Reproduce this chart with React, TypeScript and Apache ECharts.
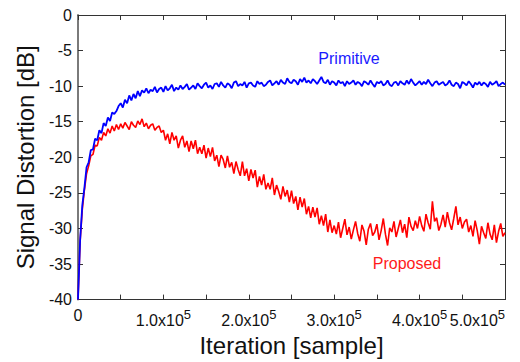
import React, { useEffect, useRef } from "react";
import * as echarts from "echarts";

// x positions: sample index * step (iterations)
const sampleStep = 2500;

// Signal distortion [dB], one value per 2500 iterations, 0 .. 5.0x10^5
const primitive = [
  -40, -31.6, -26.8, -24.3, -21.4, -20.7, -19.0, -18.9, -17.4, -17.6,
  -16.2, -16.6, -15.2, -15.6, -14.4, -14.9, -13.7, -13.9, -13.5, -12.8,
  -12.4, -13.0, -11.9, -12.4, -11.3, -12.0, -11.1, -11.7, -10.7, -11.4,
  -10.6, -10.9, -10.3, -11.0, -10.5, -10.7, -10.1, -10.9, -10.4, -10.2,
  -10.8, -10.0, -10.6, -10.3, -9.8, -10.7, -10.2, -10.5, -9.9, -10.4,
  -10.1, -9.7, -10.5, -10.2, -9.9, -10.4, -9.6, -10.0, -10.3, -9.8,
  -9.5, -10.2, -9.9, -10.4, -9.7, -9.6, -10.1, -9.4, -9.9, -10.2,
  -9.6, -9.8, -10.3, -9.5, -9.3, -10.0, -9.7, -9.9, -9.4, -10.2,
  -9.6, -9.5, -9.9, -10.1, -9.3, -9.7, -9.5, -10.0, -9.8, -9.4,
  -9.2, -9.9, -9.6, -9.3, -9.8, -9.1, -9.5, -9.7, -8.9, -9.4,
  -9.6, -9.1, -9.3, -9.8, -9.0, -9.4, -8.8, -9.5, -9.2, -9.6,
  -9.0, -9.3, -9.7, -9.2, -8.7, -9.4, -9.6, -9.1, -9.8, -9.3,
  -9.5, -9.9, -9.2, -9.6, -9.4, -10.0, -9.3, -9.7, -9.5, -9.2,
  -9.8, -9.4, -9.6, -10.0, -9.3, -9.5, -9.8, -9.2, -9.7, -10.1,
  -9.4, -9.6, -9.3, -9.9, -9.7, -9.2, -9.8, -10.0, -9.5, -9.4,
  -9.9, -9.3, -9.6, -9.8, -9.2, -9.7, -9.0, -9.5, -9.9, -9.6,
  -9.3, -9.8, -9.4, -9.7, -9.1, -9.6, -10.0, -9.5, -9.3, -9.8,
  -9.6, -9.4, -9.9, -9.7, -9.2, -9.8, -10.0, -9.5, -9.7, -10.3,
  -9.4, -9.6, -9.9, -9.3, -9.7, -10.2, -9.5, -9.8, -9.4, -9.9,
  -9.5, -9.7, -10.1, -9.4, -9.8, -9.6, -9.3, -10.0, -9.7, -9.5,
  -9.8,
];

const proposed = [
  -40, -31.8, -27.4, -24.6, -22.3, -21.2, -19.8, -19.6, -18.3, -18.4,
  -17.2, -17.6, -16.5, -17.0, -16.0, -16.6, -15.6, -16.3, -15.4, -16.1,
  -15.3, -15.9, -15.1, -15.6, -16.1, -15.0, -15.5, -15.8, -14.9, -15.4,
  -14.6, -15.7, -15.2, -16.0, -15.5, -15.3, -16.2, -15.8, -15.6, -16.5,
  -16.2, -17.6, -16.7, -18.1, -16.5, -17.6, -17.0, -18.7, -17.6, -17.0,
  -18.6, -17.7, -19.2, -17.7, -18.8, -17.6, -19.5, -18.6, -19.5, -18.3,
  -20.1, -18.7, -19.9, -18.6, -20.5, -19.7, -21.3, -19.7, -20.3, -21.5,
  -19.8, -21.4, -20.7, -22.3, -20.6, -21.7, -22.6, -20.6, -22.6, -21.6,
  -23.3, -21.7, -22.9, -21.8, -24.2, -22.7, -23.9, -22.4, -24.5, -23.6,
  -24.5, -22.9, -25.3, -23.9, -24.8, -25.9, -24.1, -25.5, -24.6, -26.3,
  -24.7, -26.5, -25.5, -27.4, -25.6, -27.0, -25.8, -28.0, -26.9, -28.5,
  -27.0, -28.4, -27.1, -29.4, -28.2, -29.6, -28.0, -30.5, -28.8, -30.6,
  -29.6, -30.8, -29.1, -31.3, -30.0, -28.7, -30.9, -29.8, -31.5, -30.2,
  -29.0, -30.7, -31.8, -29.5, -30.4, -32.3, -30.1, -29.3, -31.0, -30.5,
  -29.4, -31.6, -30.3, -28.6, -30.8, -32.4, -29.9, -30.5, -29.0, -31.2,
  -30.0, -28.8, -30.6, -29.4, -31.3, -28.4, -29.7, -30.3, -28.9, -30.0,
  -28.3, -29.6, -30.4, -28.0, -29.2, -30.1, -26.2, -29.0, -28.5, -30.3,
  -29.4, -28.1, -29.8, -27.7, -29.2, -30.2, -28.6, -26.9, -29.5, -28.4,
  -30.0, -29.1, -28.7, -30.5, -29.6, -31.1, -28.9, -30.3, -32.2, -29.7,
  -30.6, -31.4, -29.2, -30.8, -31.6, -29.5, -32.0, -30.4, -29.3, -31.1,
  -30.6,
];

const xMin = 0;
const xMax = 500000;
const xTickStep = 50000;
const xLabelStep = 100000;
const yMin = -40;
const yMax = 0;
const yTickStep = 5;

const seriesNames = ["Proposed", "Primitive"];

const FONT = "'Liberation Sans', Arial, sans-serif";

export default function App() {
  const ref = useRef<HTMLDivElement>(null);

  useEffect(() => {
    if (!ref.current) return;
    const chart = echarts.init(ref.current, undefined, { renderer: "svg" });

    const xFormatter = (v: number) => {
      if (v === 0) return "0";
      if (v % xLabelStep !== 0) return "";
      return `{b|${(v / 1e5).toFixed(1)}x10}{s|5}`;
    };

    const frame = "#333";
    const tick = { show: true, inside: true, length: 5, lineStyle: { color: frame } };

    chart.setOption({
      animation: false,
      backgroundColor: "#fff",
      textStyle: { fontFamily: FONT },
      grid: { left: 78, right: 15, top: 15, bottom: 61, containLabel: false },
      xAxis: [
        {
          type: "value",
          min: xMin,
          max: xMax,
          interval: xTickStep,
          position: "bottom",
          name: "Iteration [sample]",
          nameLocation: "middle",
          nameGap: 28,
          nameTextStyle: { fontSize: 24, color: "#111", fontFamily: FONT },
          axisLine: { show: true, onZero: false, lineStyle: { color: frame, width: 1 } },
          axisTick: tick,
          splitLine: { show: false },
          axisLabel: {
            formatter: xFormatter,
            margin: 8,
            color: "#111",
            fontSize: 16,
            fontFamily: FONT,
            alignMaxLabel: "right",
            rich: {
              b: { fontSize: 16, fontFamily: FONT, color: "#111" },
              s: { fontSize: 13, fontFamily: FONT, color: "#111", padding: [0, 0, 12, 0] },
            },
          },
        },
        {
          type: "value",
          min: xMin,
          max: xMax,
          interval: xTickStep,
          position: "top",
          axisLine: { show: true, onZero: false, lineStyle: { color: frame, width: 1 } },
          axisTick: tick,
          axisLabel: { show: false },
          splitLine: { show: false },
        },
      ],
      yAxis: [
        {
          type: "value",
          min: yMin,
          max: yMax,
          interval: yTickStep,
          position: "left",
          name: "Signal Distortion [dB]",
          nameLocation: "middle",
          nameGap: 40,
          nameRotate: 90,
          nameTextStyle: { fontSize: 24, color: "#111", fontFamily: FONT },
          axisLine: { show: true, onZero: false, lineStyle: { color: "#7a7a7a", width: 2 } },
          axisTick: tick,
          splitLine: { show: false },
          axisLabel: { color: "#111", fontSize: 16, margin: 6, fontFamily: FONT },
        },
        {
          type: "value",
          min: yMin,
          max: yMax,
          interval: yTickStep,
          position: "right",
          axisLine: { show: true, onZero: false, lineStyle: { color: frame, width: 1 } },
          axisTick: tick,
          axisLabel: { show: false },
          splitLine: { show: false },
        },
      ],
      series: [
        {
          name: seriesNames[0],
          type: "line",
          showSymbol: false,
          symbol: "none",
          data: proposed.map((v, i) => [i * sampleStep, v]),
          lineStyle: { color: "#ff0000", width: 1.6 },
          z: 2,
        },
        {
          name: seriesNames[1],
          type: "line",
          showSymbol: false,
          symbol: "none",
          data: primitive.map((v, i) => [i * sampleStep, v]),
          lineStyle: { color: "#0000ff", width: 1.8 },
          z: 3,
        },
      ],
      graphic: [
        {
          type: "text",
          x: 349,
          y: 58,
          style: {
            text: seriesNames[1],
            fill: "#1a1aff",
            fontSize: 16,
            fontFamily: FONT,
            align: "center",
            verticalAlign: "middle",
          },
        },
        {
          type: "text",
          x: 407,
          y: 263,
          style: {
            text: seriesNames[0],
            fill: "#ff1a1a",
            fontSize: 16,
            fontFamily: FONT,
            align: "center",
            verticalAlign: "middle",
          },
        },
      ],
    });

    return () => chart.dispose();
  }, []);

  return (
    <div
      ref={ref}
      style={{ position: "fixed", left: 0, top: 0, width: 520, height: 362, background: "#fff" }}
    />
  );
}
